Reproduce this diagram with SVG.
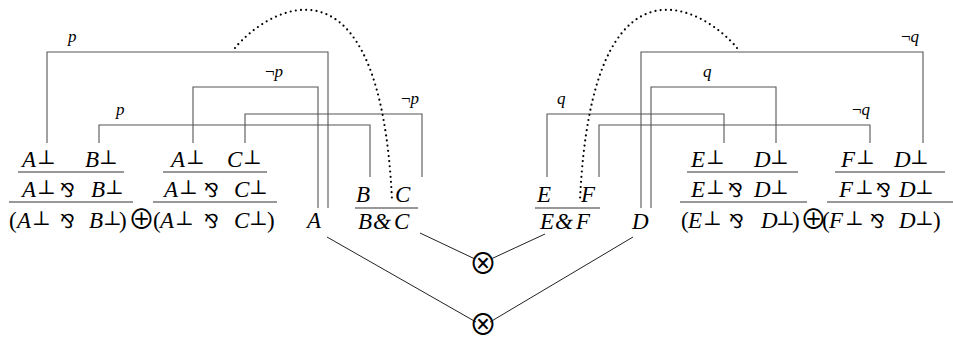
<svg xmlns="http://www.w3.org/2000/svg" width="953" height="340" viewBox="0 0 953 340">
<style>
.v{font-family:"Liberation Serif","Times New Roman",serif;font-style:italic;font-size:23px;fill:#000}
.u{font-style:normal}
.pp{font-family:"DejaVu Serif",serif;font-style:normal;font-size:20px}
.par{font-family:"DejaVu Sans",sans-serif;font-style:normal;font-size:19px}
.op{font-family:"Noto Sans CJK JP","DejaVu Sans",sans-serif;font-style:normal;font-size:27px}
.tn{font-family:"Noto Sans CJK JP","DejaVu Sans",sans-serif;font-size:28px;fill:#000}
.lbl{font-family:"Liberation Serif","Times New Roman",serif;font-style:italic;font-size:17px;fill:#000}
.neg{font-style:normal}
.bar{stroke:#333;stroke-width:1.2;fill:none}
.ax{stroke:#555;stroke-width:1.1;fill:none}
.dot{stroke:#000;stroke-width:2.2;stroke-linecap:round;stroke-dasharray:0 5.2;fill:none}
.ln{stroke:#222;stroke-width:1;fill:none}
</style>
<rect width="953" height="340" fill="#fff"/>
<g id="connectors">
  <path class="ax" d="M47,143 V52 H328 V208"/>
  <path class="ax" d="M193,143 V87 H318 V208"/>
  <path class="ax" d="M99,143 V125 H370 V177"/>
  <path class="ax" d="M245,143 V114 H422 V177"/>
  <path class="ax" d="M547,177 V114 H724 V143"/>
  <path class="ax" d="M599,177 V125 H870 V143"/>
  <path class="ax" d="M651,208 V87 H776 V143"/>
  <path class="ax" d="M641,208 V52 H923 V143"/>
  <text class="lbl" x="68" y="41.5">p</text>
  <text class="lbl" x="265" y="76.5"><tspan class="neg">¬</tspan>p</text>
  <text class="lbl" x="116" y="114.5">p</text>
  <text class="lbl" x="401" y="103.5"><tspan class="neg">¬</tspan>p</text>
  <text class="lbl" x="557" y="103.5">q</text>
  <text class="lbl" x="703" y="76.5">q</text>
  <text class="lbl" x="852" y="114.5"><tspan class="neg">¬</tspan>q</text>
  <text class="lbl" x="901" y="41.5"><tspan class="neg">¬</tspan>q</text>
  <path class="dot" d="M235,48 C268,8 380,-58 392,200"/>
  <path class="dot" d="M737,48 C704,8 592,-58 580,200"/>
  <path class="ln" d="M420,233 L475,259"/>
  <path class="ln" d="M545,234 L491,259"/>
  <path class="ln" d="M327,237 L476,322"/>
  <path class="ln" d="M633,237 L490,322"/>
</g>
<g id="tree-AB">
  <text class="v" y="167"><tspan x="22">A</tspan><tspan class="pp" x="37" y="164">⊥</tspan><tspan x="85" y="167">B</tspan><tspan class="pp" x="99" y="164">⊥</tspan></text>
  <line class="bar" x1="18" y1="172" x2="124" y2="172"/>
  <text class="v" y="197"><tspan x="22">A</tspan><tspan class="pp" x="37" y="194">⊥</tspan><tspan class="par" x="60" y="197">⅋</tspan><tspan x="91">B</tspan><tspan class="pp" x="105" y="194">⊥</tspan></text>
  <line class="bar" x1="9" y1="202" x2="133" y2="202"/>
  <text class="v" y="228"><tspan class="u" x="9">(</tspan><tspan x="17">A</tspan><tspan class="pp" x="32" y="225">⊥</tspan><tspan class="par" x="60" y="228">⅋</tspan><tspan x="89">B</tspan><tspan class="pp" x="103" y="225">⊥</tspan><tspan class="u" x="119" y="228">)</tspan><tspan class="op" x="128" y="229">⊕</tspan><tspan class="u" x="153" y="228">(</tspan><tspan x="160">A</tspan><tspan class="pp" x="175" y="225">⊥</tspan><tspan class="par" x="204" y="228">⅋</tspan><tspan x="234">C</tspan><tspan class="pp" x="249" y="225">⊥</tspan><tspan class="u" x="267" y="228">)</tspan></text>
</g>
<g id="tree-AC">
  <text class="v" y="167"><tspan x="171">A</tspan><tspan class="pp" x="186" y="164">⊥</tspan><tspan x="227" y="167">C</tspan><tspan class="pp" x="243" y="164">⊥</tspan></text>
  <line class="bar" x1="163" y1="172" x2="267" y2="172"/>
  <text class="v" y="197"><tspan x="164">A</tspan><tspan class="pp" x="179" y="194">⊥</tspan><tspan class="par" x="204" y="197">⅋</tspan><tspan x="234">C</tspan><tspan class="pp" x="249" y="194">⊥</tspan></text>
  <line class="bar" x1="153" y1="202" x2="277" y2="202"/>
</g>
<g id="node-A">
  <text class="v" x="307" y="228">A</text>
</g>
<g id="tree-BC">
  <text class="v" y="202"><tspan x="356">B</tspan><tspan x="395">C</tspan></text>
  <line class="bar" x1="355" y1="208" x2="418" y2="208"/>
  <text class="v" y="229"><tspan x="358">B</tspan><tspan x="373">&amp;</tspan><tspan x="394">C</tspan></text>
</g>
<g id="tree-EF">
  <text class="v" y="202"><tspan x="537">E</tspan><tspan x="581">F</tspan></text>
  <line class="bar" x1="535" y1="208" x2="600" y2="208"/>
  <text class="v" y="229"><tspan x="540">E</tspan><tspan x="555">&amp;</tspan><tspan x="576">F</tspan></text>
</g>
<g id="node-D">
  <text class="v" x="632" y="229">D</text>
</g>
<g id="tree-ED">
  <text class="v" y="167"><tspan x="691">E</tspan><tspan class="pp" x="706" y="164">⊥</tspan><tspan x="754" y="167">D</tspan><tspan class="pp" x="770" y="164">⊥</tspan></text>
  <line class="bar" x1="687" y1="172" x2="798" y2="172"/>
  <text class="v" y="197"><tspan x="691">E</tspan><tspan class="pp" x="706" y="194">⊥</tspan><tspan class="par" x="728" y="197">⅋</tspan><tspan x="754">D</tspan><tspan class="pp" x="770" y="194">⊥</tspan></text>
  <line class="bar" x1="680" y1="202" x2="807" y2="202"/>
  <text class="v" y="228"><tspan class="u" x="681">(</tspan><tspan x="688">E</tspan><tspan class="pp" x="703" y="225">⊥</tspan><tspan class="par" x="729" y="228">⅋</tspan><tspan x="761">D</tspan><tspan class="pp" x="776" y="225">⊥</tspan><tspan class="u" x="792" y="228">)</tspan><tspan class="op" x="800" y="229">⊕</tspan><tspan class="u" x="822" y="228">(</tspan><tspan x="829">F</tspan><tspan class="pp" x="845" y="225">⊥</tspan><tspan class="par" x="870" y="228">⅋</tspan><tspan x="899">D</tspan><tspan class="pp" x="915" y="225">⊥</tspan><tspan class="u" x="933" y="228">)</tspan></text>
</g>
<g id="tree-FD">
  <text class="v" y="167"><tspan x="841">F</tspan><tspan class="pp" x="856" y="164">⊥</tspan><tspan x="894" y="167">D</tspan><tspan class="pp" x="910" y="164">⊥</tspan></text>
  <line class="bar" x1="835" y1="172" x2="945" y2="172"/>
  <text class="v" y="197"><tspan x="839">F</tspan><tspan class="pp" x="855" y="194">⊥</tspan><tspan class="par" x="876" y="197">⅋</tspan><tspan x="899">D</tspan><tspan class="pp" x="915" y="194">⊥</tspan></text>
  <line class="bar" x1="827" y1="202" x2="953" y2="202"/>
</g>
<g id="tensor-1">
  <text class="tn" x="483" y="274" text-anchor="middle">⊗</text>
</g>
<g id="tensor-2">
  <text class="tn" x="483" y="335" text-anchor="middle">⊗</text>
</g>
</svg>
